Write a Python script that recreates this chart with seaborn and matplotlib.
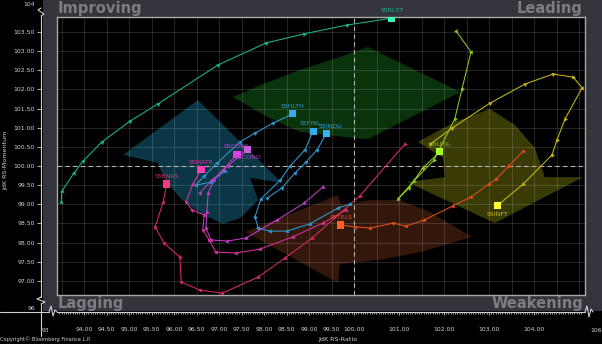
import numpy as np
import pandas as pd
import matplotlib
matplotlib.use("Agg")
import matplotlib.pyplot as plt
from matplotlib.patches import Polygon, Rectangle
from matplotlib.lines import Line2D
import seaborn as sns

# ---------------- data: JdK RS-Ratio / JdK RS-Momentum, oldest -> newest (last = head)
sectors = ["S5RLST", "S5HLTH", "S5FINL", "S5INDU", "S5CONS", "S5COND",
           "S5MATR", "S5ENRS", "S5TELS", "S5UTIL", "S5INFT"]

rlst_ratio = [93.49, 93.51, 93.78, 93.98, 94.40, 95.02, 95.64, 96.98, 98.04, 98.89, 99.84, 100.84]
rlst_mom = [99.06, 99.35, 99.82, 100.13, 100.63, 101.17, 101.62, 102.64, 103.21, 103.45, 103.68, 103.86]

hlth_ratio = [97.13, 96.82, 96.49, 96.67, 96.96, 97.47, 97.80, 98.20, 98.64]
hlth_mom = [99.87, 99.58, 99.50, 99.74, 100.08, 100.63, 100.86, 101.12, 101.36]

finl_ratio = [99.91, 99.64, 99.02, 98.51, 98.13, 97.87, 97.80, 97.93, 98.36, 98.58, 98.91, 99.09]
finl_mom = [99.01, 98.90, 98.49, 98.30, 98.30, 98.38, 98.67, 99.14, 99.63, 100.00, 100.42, 100.91]

indu_ratio = [98.07, 98.40, 98.69, 98.93, 99.18, 99.38]
indu_mom = [99.16, 99.43, 99.82, 100.10, 100.42, 100.84]

cons_ratio = [99.31, 98.89, 98.29, 97.60, 97.18, 96.82, 96.71, 96.73, 96.76, 96.89, 97.09, 97.40]
cons_mom = [99.45, 99.03, 98.59, 98.12, 98.04, 98.07, 98.38, 98.80, 99.30, 99.63, 99.90, 100.31]

cond_ratio = [96.58, 96.84, 97.20, 97.64]
cond_mom = [99.30, 99.63, 100.00, 100.44]

matr_ratio = [99.82, 99.31, 98.64, 97.91, 97.38, 96.93, 96.78, 96.64, 96.67, 96.40, 96.27, 96.42, 96.60]
matr_mom = [98.85, 98.51, 98.15, 97.83, 97.73, 97.75, 98.07, 98.33, 98.72, 98.85, 99.06, 99.53, 99.90]

enrs_ratio = [101.13, 100.13, 99.07, 98.47, 97.87, 97.07, 96.58, 96.16, 96.13, 95.78, 95.58, 95.76, 95.84]
enrs_mom = [100.57, 99.22, 98.12, 97.60, 97.10, 96.68, 96.76, 96.97, 97.62, 97.99, 98.41, 99.06, 99.53]

tels_ratio = [103.76, 103.44, 103.16, 103.00, 102.60, 102.20, 101.56, 101.16, 100.87, 100.36, 100.02, 99.71]
tels_mom = [100.39, 100.00, 99.66, 99.53, 99.19, 98.96, 98.59, 98.43, 98.51, 98.38, 98.41, 98.46]

util_ratio = [102.27, 102.60, 102.40, 102.24, 101.78, 101.33, 100.98, 101.22, 101.53, 101.91]
util_mom = [103.52, 102.98, 102.01, 101.23, 100.16, 99.61, 99.14, 99.43, 99.95, 100.37]

inft_ratio = [101.69, 102.18, 103.02, 103.80, 104.42, 104.87, 105.07, 104.69, 104.51, 104.40, 103.76, 103.18]
inft_mom = [100.57, 100.99, 101.64, 102.14, 102.40, 102.32, 102.04, 101.23, 100.68, 100.29, 99.53, 98.96]

x_tick_values = [94.0, 94.5, 95.0, 95.5, 96.0, 96.5, 97.0, 97.5, 98.0, 98.5, 99.0, 99.5,
                 100.0, 101.0, 102.0, 103.0, 104.0]
x_tick_labels = [f"{v:.2f}" for v in x_tick_values]
y_tick_values = [97.0, 97.5, 98.0, 98.5, 99.0, 99.5, 100.0, 100.5, 101.0, 101.5,
                 102.0, 102.5, 103.0, 103.5]
y_tick_labels = [f"{v:.2f}" for v in y_tick_values]

quadrants = ["Improving", "Leading", "Lagging", "Weakening"]

# background rotation arrows (decoration, data units)
arrow_blue = [(94.87, 100.29), (96.53, 101.72), (98.40, 99.56), (97.69, 99.69), (97.87, 99.11),
              (97.47, 98.64), (97.09, 98.49), (96.58, 98.77), (96.18, 99.11), (95.80, 99.63),
              (95.64, 100.08)]
arrow_green = [(97.31, 101.80), (97.91, 102.11), (98.80, 102.51), (99.69, 102.85), (100.31, 103.11),
               (102.36, 101.93), (100.31, 100.70), (99.58, 100.78), (98.80, 100.89), (98.13, 101.25)]
arrow_yellow = [(101.42, 100.63), (102.24, 101.15), (103.02, 101.49), (103.58, 101.07),
                (104.02, 100.47), (104.24, 99.71), (105.09, 99.71), (103.13, 98.51),
                (101.18, 99.58), (102.02, 99.71), (101.98, 100.21)]
arrow_brown = [(97.58, 98.28), (99.64, 99.24), (99.73, 98.98), (100.36, 99.11), (101.02, 99.11),
               (101.69, 98.80), (102.62, 98.15), (101.47, 97.75), (100.58, 97.55), (99.69, 97.44),
               (99.64, 96.95)]

series = {
    "S5RLST": (rlst_ratio, rlst_mom), "S5HLTH": (hlth_ratio, hlth_mom),
    "S5FINL": (finl_ratio, finl_mom), "S5INDU": (indu_ratio, indu_mom),
    "S5CONS": (cons_ratio, cons_mom), "S5COND": (cond_ratio, cond_mom),
    "S5MATR": (matr_ratio, matr_mom), "S5ENRS": (enrs_ratio, enrs_mom),
    "S5TELS": (tels_ratio, tels_mom), "S5UTIL": (util_ratio, util_mom),
    "S5INFT": (inft_ratio, inft_mom),
}

line_colors = {"S5RLST": "#1fb48c", "S5HLTH": "#2e9bd6", "S5FINL": "#2e9bd6", "S5INDU": "#2e9bd6",
               "S5CONS": "#c43ccc", "S5COND": "#b244c0", "S5MATR": "#d8349c", "S5ENRS": "#d82c64",
               "S5TELS": "#e0501c", "S5UTIL": "#8ccc1c", "S5INFT": "#c8b818"}
head_colors = {"S5RLST": "#3df5b5", "S5HLTH": "#33aaee", "S5FINL": "#33aaee", "S5INDU": "#33b4f4",
               "S5CONS": "#e040e8", "S5COND": "#cc5ce0", "S5MATR": "#ff40b0", "S5ENRS": "#ff3a7a",
               "S5TELS": "#ff6020", "S5UTIL": "#a8ff30", "S5INFT": "#ffff30"}
label_below = {"S5INFT", "S5COND"}
label_dx = {"S5FINL": -2.0, "S5INDU": 3.5}

rows = []
for s in sectors:
    xs, ys = series[s]
    for i, (a, b) in enumerate(zip(xs, ys)):
        rows.append({"sector": s, "step": i, "ratio": a, "momentum": b})
df = pd.DataFrame(rows)
heads = df.groupby("sector", sort=False).tail(1)

# ---------------- style
sns.set_theme(style="dark")
plt.rcParams["font.family"] = ["DejaVu Sans"]

W, H = 602, 344
FRAME = "#34343c"
TXT = "#d0d0d0"


def fx(px):
    return px / W


def fy(py):
    return 1 - py / H


XLIM = (100 + (57 - 354) / 45, 100 + (585 - 354) / 45)
YLIM = (100 - (295 - 166) / 38.3, 100 + (166 - 17) / 38.3)

fig = plt.figure(figsize=(W / 100, H / 100), dpi=100, facecolor="black")
fig.patches.append(Rectangle((fx(43), fy(311)), fx(602) - fx(43), fy(0) - fy(311),
                             transform=fig.transFigure, facecolor=FRAME, edgecolor="none", zorder=-5))

ax = fig.add_axes([fx(57), fy(295), fx(585) - fx(57), fy(17) - fy(295)])
ax.set_facecolor("black")
ax.set_xlim(XLIM)
ax.set_ylim(YLIM)
ax.set_axisbelow("line")
ax.set_xticks(np.arange(93.5, 105.01, 0.5))
ax.set_yticks(np.arange(97.0, 103.51, 0.5))
ax.tick_params(length=0, labelbottom=False, labelleft=False)
ax.grid(True, color="white", alpha=0.17, lw=0.6)
for sp in ax.spines.values():
    sp.set_visible(True)
    sp.set_color("#a8a8a8")
    sp.set_linewidth(1.0)

for verts, col in [(arrow_blue, "#0b3646"), (arrow_green, "#0a320b"),
                   (arrow_yellow, "#3a3a06"), (arrow_brown, "#32170a")]:
    ax.add_patch(Polygon(verts, closed=True, facecolor=col, edgecolor="none", zorder=1))

ax.axvline(100, color="#b4b4b4", lw=0.8, ls=(0, (4, 3)), zorder=1.8)
ax.axhline(100, color="#b4b4b4", lw=0.8, ls=(0, (4, 3)), zorder=1.8)

sns.lineplot(data=df, x="ratio", y="momentum", hue="sector", hue_order=sectors,
             palette=line_colors, sort=False, estimator=None, lw=0.75, legend=False,
             ax=ax, zorder=2.5)
ax.set_xlabel("")
ax.set_ylabel("")

# direction triangles
for s in sectors:
    xs, ys = series[s]
    pts = ax.transData.transform(np.column_stack([xs, ys]))
    for i in range(len(xs) - 1):
        d = pts[1] - pts[0] if i == 0 else pts[i] - pts[i - 1]
        ang = np.degrees(np.arctan2(d[1], d[0])) - 90
        ax.plot(xs[i], ys[i], marker=(3, 0, ang), ms=3.0, color=line_colors[s],
                mec=line_colors[s], mew=0.3, ls="none", zorder=3)

sns.scatterplot(data=heads, x="ratio", y="momentum", hue="sector", hue_order=sectors,
                palette=head_colors, marker="s", s=26, linewidth=0, legend=False, ax=ax, zorder=4)
ax.set_xlabel("")
ax.set_ylabel("")

for _, r in heads.iterrows():
    s = r["sector"]
    off = -6.2 if s in label_below else 5.6
    ax.annotate(s, (r["ratio"], r["momentum"]), xytext=(label_dx.get(s, 0), off),
                textcoords="offset points", ha="center", va="center", fontsize=4.5,
                color=line_colors[s], zorder=5)

# ---------------- y axis (ghost)
ay = fig.add_axes([fx(41), fy(295), 1e-5, fy(17) - fy(295)])
ay.set_ylim(YLIM)
ay.patch.set_visible(False)
for sp in ay.spines.values():
    sp.set_visible(False)
ay.set_xticks([])
ay.set_yticks(y_tick_values)
ay.set_yticklabels(y_tick_labels)
ay.tick_params(axis="y", direction="out", length=3, width=0.6, color=TXT, labelcolor=TXT,
               labelsize=4.4, pad=1.2, left=True)

# ---------------- x axis (ghost)
axx = fig.add_axes([fx(57), fy(312), fx(585) - fx(57), 1e-5])
axx.set_xlim(XLIM)
axx.patch.set_visible(False)
for sp in axx.spines.values():
    sp.set_visible(False)
axx.set_yticks([])
axx.set_xticks(x_tick_values)
axx.set_xticklabels(x_tick_labels)
axx.set_xticks(np.arange(93.45, 105.1, 0.05), minor=True)
axx.tick_params(axis="x", which="major", direction="out", length=2.5, width=0.6, color=TXT,
                labelcolor=TXT, labelsize=4.4, pad=8, bottom=True)
axx.tick_params(axis="x", which="minor", direction="out", length=1.3, width=0.5, color=TXT,
                bottom=True)

LC = "#d0d0d0"


def fline(pxs, pys, lw=0.8):
    fig.add_artist(Line2D([fx(p) for p in pxs], [fy(p) for p in pys],
                          transform=fig.transFigure, color=LC, lw=lw))


# axis lines with breaks
fline([0, 49], [312, 312])
fline([49, 51, 53, 55, 57], [312, 306, 316, 310, 312])
fline([57, 585], [312, 312])
fline([585, 587, 589, 591, 593], [312, 306, 317, 309, 312])
fline([41, 41], [16, 297])
fline([41, 37, 45, 41], [297, 299, 302, 304])
fline([41, 41], [304, 336])
fline([41, 44, 38, 41], [16, 14, 10, 8])

tc = dict(color=TXT, fontsize=4.4)
fig.text(fx(29), fy(5), "104", ha="center", va="center", **tc)
fig.text(fx(31), fy(309), "96", ha="center", va="center", **tc)
fig.text(fx(46), fy(330), "93", ha="center", va="center", **tc)
fig.text(fx(596), fy(330), "106", ha="center", va="center", **tc)
fig.text(fx(6), fy(160), "JdK RS-Momentum", rotation=90, ha="center", va="center",
         color=TXT, fontsize=4.6)
fig.text(fx(338), fy(339), "JdK RS-Ratio", ha="center", va="center", color=TXT, fontsize=4.6)
fig.text(fx(0), fy(339), "Copyright\u00a9 Bloomberg Finance L.P.", ha="left", va="center",
         color=TXT, fontsize=3.7)

qc = dict(color="#7c7c82", fontsize=10.6, fontweight="bold", va="center")
fig.text(fx(58), fy(8.5), quadrants[0], ha="left", **qc)
fig.text(fx(583), fy(8.5), quadrants[1], ha="right", **qc)
fig.text(fx(58), fy(303.5), quadrants[2], ha="left", **qc)
fig.text(fx(583), fy(303.5), quadrants[3], ha="right", **qc)

fig.savefig("out.png", dpi=100, facecolor="black")
